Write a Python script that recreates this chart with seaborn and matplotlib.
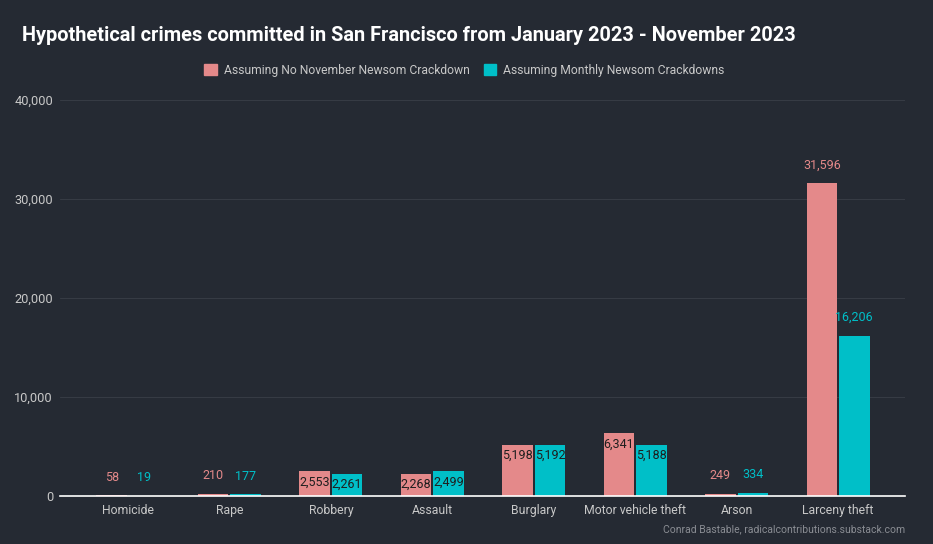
import matplotlib
matplotlib.use("Agg")
import matplotlib.pyplot as plt
import matplotlib.patches as mpatches
import seaborn as sns
import pandas as pd

# data
categories = ["Homicide", "Rape", "Robbery", "Assault", "Burglary",
              "Motor vehicle theft", "Arson", "Larceny theft"]
no_crackdown = [58, 210, 2553, 2268, 5198, 6341, 249, 31596]
monthly_crackdown = [19, 177, 2261, 2499, 5192, 5188, 334, 16206]
series_names = ["Assuming No November Newsom Crackdown",
                "Assuming Monthly Newsom Crackdowns"]

bg = "#252a33"
pink = "#e4898a"
cyan = "#00bfc8"
txt = "#c8c8c8"

df = pd.DataFrame({
    "crime": categories * 2,
    "count": no_crackdown + monthly_crackdown,
    "series": [series_names[0]] * len(categories) + [series_names[1]] * len(categories),
})

sns.set_theme(style="dark")
plt.rcParams["font.family"] = ["Roboto", "DejaVu Sans"]

fig = plt.figure(figsize=(9.33, 5.44), dpi=100, facecolor=bg)
ax = fig.add_axes([0.0643, 0.0882, 0.9057, 0.728])
ax.set_facecolor(bg)

sns.barplot(data=df, x="crime", y="count", hue="series", order=categories,
            hue_order=series_names, palette=[pink, cyan], width=0.64,
            gap=0.06, saturation=1, legend=False, ax=ax, errorbar=None,
            linewidth=0, edgecolor="none")

ax.set_xlim(-0.67, 7.66)
ax.set_ylim(0, 40000)
ax.set_yticks([0, 10000, 20000, 30000, 40000])
ax.set_yticklabels([f"{v:,}" for v in [0, 10000, 20000, 30000, 40000]],
                   color=txt, fontsize=9.2)
ax.tick_params(axis="x", colors=txt, labelsize=8.8, length=0, pad=6)
ax.tick_params(axis="y", length=0, pad=5)
ax.set_xlabel("")
ax.set_ylabel("")
ax.grid(axis="y", color="#363b44", linewidth=0.8)
ax.grid(axis="x", visible=False)
ax.set_axisbelow(True)
for s in ["top", "right", "left"]:
    ax.spines[s].set_visible(False)
ax.spines["bottom"].set_color("white")
ax.spines["bottom"].set_linewidth(1.2)

# value labels
for cont, col in zip(ax.containers, [pink, cyan]):
    for bar in cont:
        v = bar.get_height()
        cx = bar.get_x() + bar.get_width() / 2
        if 1000 < v < 10000:
            ax.annotate(f"{int(v):,}", (cx, v), xytext=(0, -8),
                        textcoords="offset points", ha="center", va="center",
                        color="#1e1e1e", fontsize=9)
        else:
            ax.annotate(f"{int(v):,}", (cx, v), xytext=(0, 13),
                        textcoords="offset points", ha="center", va="center",
                        color=col, fontsize=9)

fig.text(0.024, 0.935, "Hypothetical crimes committed in San Francisco from January 2023 - November 2023",
         color="white", fontsize=14.4, fontweight="bold", ha="left", va="center")

handles = [mpatches.Patch(color=pink, label=series_names[0]),
           mpatches.Patch(color=cyan, label=series_names[1])]
leg = fig.legend(handles=handles, loc="center", bbox_to_anchor=(0.498, 0.871),
                 ncol=2, frameon=False, fontsize=8.7, handlelength=1.0,
                 handleheight=1.0, columnspacing=1.2, handletextpad=0.6)
for t in leg.get_texts():
    t.set_color(txt)

fig.text(0.970, 0.028, "Conrad Bastable, radicalcontributions.substack.com",
         color="#8a8d93", fontsize=7.5, ha="right", va="center")

fig.savefig("out.png", dpi=100, facecolor=bg)
